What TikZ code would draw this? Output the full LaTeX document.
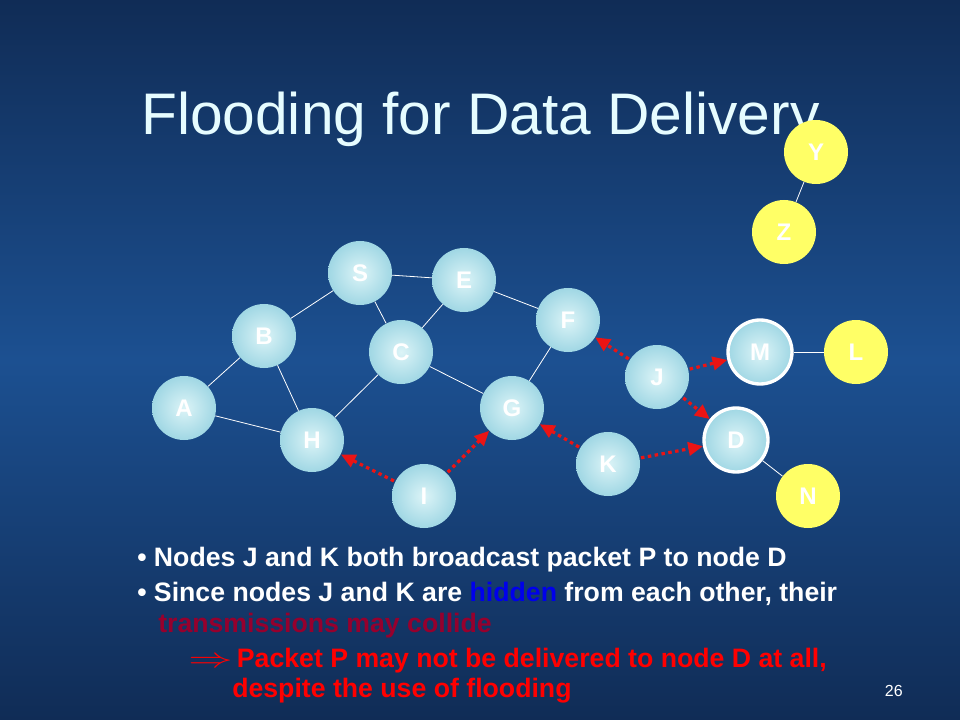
\documentclass[tikz,border=0pt]{standalone}
\usepackage{fontspec}
\setmainfont{Liberation Sans}
\usetikzlibrary{arrows.meta,positioning}
\definecolor{bgdark}{RGB}{16,44,86}
\definecolor{bgmid}{RGB}{28,80,145}
\definecolor{ballin}{RGB}{220,244,247}
\definecolor{ballout}{RGB}{160,215,228}
\definecolor{sunfill}{RGB}{255,255,102}
\definecolor{titlecol}{RGB}{230,252,255}
\definecolor{collide}{RGB}{150,0,45}
\definecolor{hiddencol}{RGB}{0,0,235}
\definecolor{bcastred}{RGB}{235,20,20}

\begin{document}
\begin{tikzpicture}[x=0.75pt,y=-0.75pt,
    station/.style={circle,minimum size=48pt,inner sep=0pt,text=white,
      font=\fontsize{18}{18}\selectfont\bfseries},
    ball/.style={station,inner color=ballin,outer color=ballout},
    sun/.style={station,fill=sunfill},
    ring/.style={ball,draw=white,line width=2.5pt},
    link/.style={white,line width=0.6pt},
    bcast/.style={bcastred,line width=2.4pt,dash pattern=on 2.6pt off 2.6pt,
      -{Triangle[length=11pt,width=10pt]},shorten <=1pt},
    bodyline/.style={anchor=base west,inner sep=0pt,font=\fontsize{20}{24}\selectfont\bfseries}]
      \useasboundingbox (0,0) rectangle (960,720);
      \shade[top color=bgdark,bottom color=bgdark,middle color=bgmid] (0,0) rectangle (960,720);
      \node[anchor=base west,inner sep=0pt,text=titlecol,font=\fontsize{44}{44}\selectfont] (title) at (141,135) {Flooding for Data Delivery};
      \node[ball] (S) at (360,273) {S};
      \node[ball] (E) at (464,280) {E};
      \node[ball] (B) at (264,336) {B};
      \node[ball] (C) at (401,352) {C};
      \node[ball] (F) at (568,320) {F};
      \node[ball] (A) at (184,408) {A};
      \node[ball] (H) at (312,440) {H};
      \node[ball] (G) at (512,408) {G};
      \node[ball] (I) at (424,496) {I};
      \node[ball] (J) at (657,377) {J};
      \node[ball] (K) at (608,464) {K};
      \node[ring] (M) at (760,352) {M};
      \node[ring] (D) at (736,440) {D};
      \node[sun] (L) at (856,352) {L};
      \node[sun] (N) at (808,496) {N};
      \node[sun] (Y) at (816,152) {Y};
      \node[sun] (Z) at (784,232) {Z};
      \draw[link] (S) -- (E);
      \draw[link] (S) -- (B);
      \draw[link] (S) -- (C);
      \draw[link] (E) -- (C);
      \draw[link] (E) -- (F);
      \draw[link] (B) -- (A);
      \draw[link] (B) -- (H);
      \draw[link] (A) -- (H);
      \draw[link] (C) -- (H);
      \draw[link] (C) -- (G);
      \draw[link] (G) -- (F);
      \draw[link] (Y) -- (Z);
      \draw[link] (M) -- (L);
      \draw[link] (D) -- (N);
      \draw[bcast] (I) -- (H);
      \draw[bcast] (I) -- (G);
      \draw[bcast] (K) -- (G);
      \draw[bcast] (K) -- (D);
      \draw[bcast] (J) -- (F);
      \draw[bcast] (J) -- (M);
      \draw[bcast] (J) -- (D);
      \node[bodyline,text=white] (l1) at (137,566) {\textbullet\ Nodes J and K both broadcast packet P to node D};
      \node[bodyline,text=white] (l2) at (137,601) {\textbullet\ Since nodes J and K are \textcolor{hiddencol}{hidden} from each other, their};
      \node[bodyline,text=collide] (l3) at (158,632) {transmissions may collide};
      \node[bodyline,text=red] (l4) at (188,667) {\scalebox{1.6}[1]{$\Rightarrow$}\,Packet P may not be delivered to node D at all,};
      \node[bodyline,text=red] (l5) at (232,697) {despite the use of flooding};
      \node[anchor=base east,inner sep=0pt,text=white,font=\fontsize{12}{12}\selectfont] (page) at (903,696) {26};
\end{tikzpicture}
\end{document}
